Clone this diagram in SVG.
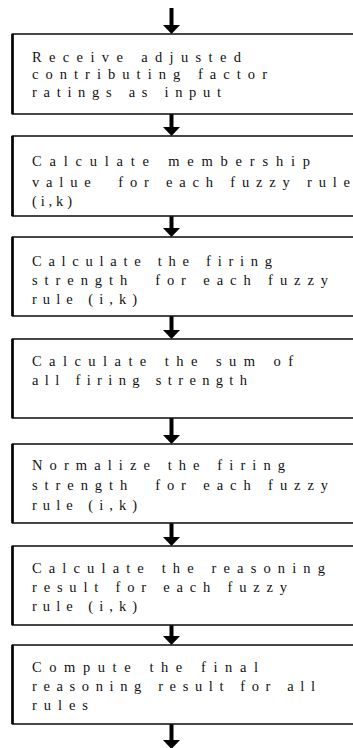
<svg xmlns="http://www.w3.org/2000/svg" width="353" height="748" viewBox="0 0 353 748">
<style>
.box{fill:#fff;stroke:#1a1a1a;stroke-width:1.6}
.edge{stroke:#000;stroke-width:2.6}
.shaft{stroke:#000;stroke-width:4}
.head{fill:#000}
</style>
<rect width="353" height="748" fill="#fff"/>
<g id="connectors">
<line class="shaft" x1="171.5" y1="8" x2="171.5" y2="26"/><polygon class="head" points="163,25 180,25 171.5,34"/>
<line class="shaft" x1="171.5" y1="114" x2="171.5" y2="128"/><polygon class="head" points="163,127 180,127 171.5,136"/>
<line class="shaft" x1="171.5" y1="216" x2="171.5" y2="229"/><polygon class="head" points="163,228 180,228 171.5,237"/>
<line class="shaft" x1="171.5" y1="316" x2="171.5" y2="331"/><polygon class="head" points="163,330 180,330 171.5,339"/>
<line class="shaft" x1="171.5" y1="418" x2="171.5" y2="436"/><polygon class="head" points="163,435 180,435 171.5,444"/>
<line class="shaft" x1="171.5" y1="523" x2="171.5" y2="538"/><polygon class="head" points="163,537 180,537 171.5,546"/>
<line class="shaft" x1="171.5" y1="625" x2="171.5" y2="637"/><polygon class="head" points="163,636 180,636 171.5,645"/>
<line class="shaft" x1="171.5" y1="724" x2="171.5" y2="741"/><polygon class="head" points="163,740 180,740 171.5,749"/>
</g>
<g font-family="Liberation Serif, Times New Roman, serif" font-size="14.5" fill="#111" lengthAdjust="spacing">
<g id="n1"><rect class="box" x="12.5" y="34" width="360" height="80"/><line class="edge" x1="12.5" y1="34" x2="12.5" y2="114"/>
<text><tspan x="32" y="62" textLength="209" lengthAdjust="spacing">Receive adjusted</tspan><tspan x="32" y="79" textLength="235" lengthAdjust="spacing">contributing factor</tspan><tspan x="32" y="97" textLength="189" lengthAdjust="spacing">ratings as input</tspan></text></g>
<g id="n2"><rect class="box" x="12.5" y="136" width="360" height="80"/><line class="edge" x1="12.5" y1="136" x2="12.5" y2="216"/>
<text><tspan x="32" y="166" textLength="278" lengthAdjust="spacing">Calculate membership</tspan><tspan x="32" y="187" textLength="318" lengthAdjust="spacing">value&#160;&#160;for each fuzzy rule</tspan><tspan x="32" y="206" textLength="40" lengthAdjust="spacing">(i,k)</tspan></text></g>
<g id="n3"><rect class="box" x="12.5" y="237" width="360" height="79"/><line class="edge" x1="12.5" y1="237" x2="12.5" y2="316"/>
<text><tspan x="32" y="266" textLength="240" lengthAdjust="spacing">Calculate the firing</tspan><tspan x="32" y="285" textLength="296" lengthAdjust="spacing">strength&#160;&#160;for each fuzzy</tspan><tspan x="32" y="304" textLength="105" lengthAdjust="spacing">rule (i,k)</tspan></text></g>
<g id="n4"><rect class="box" x="12.5" y="339" width="360" height="79"/><line class="edge" x1="12.5" y1="339" x2="12.5" y2="418"/>
<text><tspan x="32" y="366" textLength="261" lengthAdjust="spacing">Calculate the sum of</tspan><tspan x="32" y="385" textLength="215" lengthAdjust="spacing">all firing strength</tspan></text></g>
<g id="n5"><rect class="box" x="12.5" y="444" width="360" height="79"/><line class="edge" x1="12.5" y1="444" x2="12.5" y2="523"/>
<text><tspan x="32" y="470" textLength="253" lengthAdjust="spacing">Normalize the firing</tspan><tspan x="32" y="490" textLength="296" lengthAdjust="spacing">strength&#160;&#160;for each fuzzy</tspan><tspan x="32" y="510" textLength="105" lengthAdjust="spacing">rule (i,k)</tspan></text></g>
<g id="n6"><rect class="box" x="12.5" y="546" width="360" height="79"/><line class="edge" x1="12.5" y1="546" x2="12.5" y2="625"/>
<text><tspan x="32" y="573" textLength="293" lengthAdjust="spacing">Calculate the reasoning</tspan><tspan x="32" y="592" textLength="255" lengthAdjust="spacing">result for each fuzzy</tspan><tspan x="32" y="611" textLength="105" lengthAdjust="spacing">rule (i,k)</tspan></text></g>
<g id="n7"><rect class="box" x="12.5" y="645" width="360" height="79"/><line class="edge" x1="12.5" y1="645" x2="12.5" y2="724"/>
<text><tspan x="32" y="672" textLength="226" lengthAdjust="spacing">Compute the final</tspan><tspan x="32" y="691" textLength="283" lengthAdjust="spacing">reasoning result for all</tspan><tspan x="32" y="710" textLength="56" lengthAdjust="spacing">rules</tspan></text></g>
</g>
</svg>
